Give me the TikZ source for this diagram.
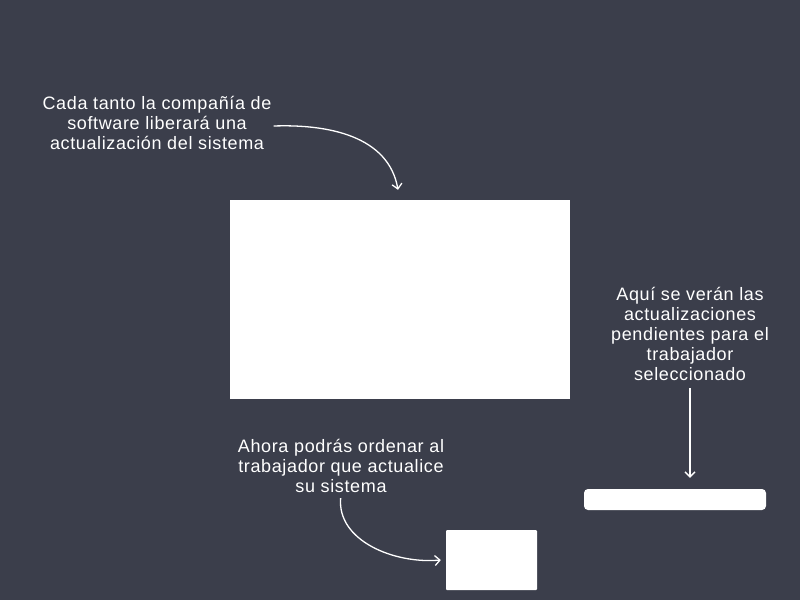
\documentclass[tikz,border=0pt]{standalone}
\usepackage{fontspec}
\setmainfont[LetterSpace=3.5]{Liberation Sans}
\usetikzlibrary{arrows.meta}
\definecolor{bgdark}{RGB}{59,62,75}
\tikzset{
  note/.style={text=white,align=center,font=\fontsize{18}{20.2}\selectfont,inner sep=1pt},
  panel/.style={fill=white,draw=none},
  hint/.style={draw=white,line width=1.3pt,-{Straight Barb[length=5pt,width=10pt]}}
}
\begin{document}
\begin{tikzpicture}[x=1pt,y=-1pt]
   \fill[bgdark] (0,0) rectangle (800,600);
   \useasboundingbox (0,0) rectangle (800,600);
   \fill[panel] (230,200) rectangle (570,399);
   \node[minimum width=340,minimum height=199,inner sep=0] (screen) at (400,299.5) {};
   \node[panel,minimum width=91,minimum height=60,inner sep=0,rounded corners=1pt] (updbtn) at (491.5,560) {};
   \node[panel,minimum width=182,minimum height=21,inner sep=0,rounded corners=4pt] (pending) at (675,499.5) {};
   \node[note] (txtrelease) at (157,123) {Cada tanto la compañía de\\software liberará una\\actualización del sistema};
   \node[note] (txtorder) at (341,466) {Ahora podrás ordenar al\\trabajador que actualice\\su sistema};
   \node[note] (txtpending) at (690,334) {Aquí se verán las\\actualizaciones\\pendientes para el\\trabajador\\seleccionado};
   \draw[hint] ([xshift=1,yshift=-3]txtrelease.east) to[out=2,in=100] ([xshift=-2,yshift=10]screen.north);
   \draw[hint,shorten <=4pt] (txtorder.south) to[out=-95,in=185] ([xshift=-5]updbtn.west);
   \draw[hint,shorten <=6pt,shorten >=11pt] (txtpending.south) -- (txtpending.south |- pending.north);
\end{tikzpicture}
\end{document}
